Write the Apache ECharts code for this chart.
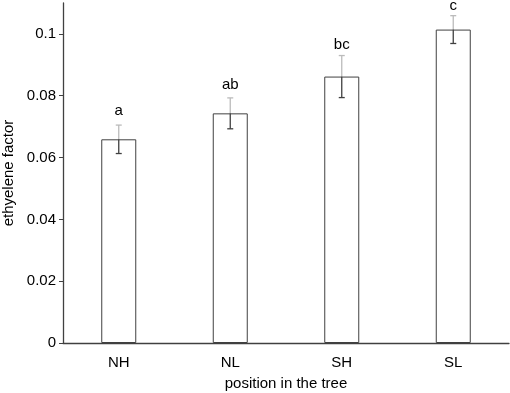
<!DOCTYPE html>
<html><head><meta charset="utf-8">
<script src="https://cdn.jsdelivr.net/npm/echarts@6/dist/echarts.min.js"></script>
<style>html,body{margin:0;padding:0;background:#fff}#c{width:510px;height:393px}</style>
</head><body><div id="c"></div>
<script>
const categories = ['NH', 'NL', 'SH', 'SL'];
const values = [0.0659, 0.0743, 0.0862, 0.1014];
const errors = [0.0046, 0.0050, 0.0068, 0.0045];
const letters = ['a', 'ab', 'bc', 'c'];
const letterPos = [0.0752, 0.0836, 0.0966, 0.1090];
const yTicks = [0, 0.02, 0.04, 0.06, 0.08, 0.1];

const chart = echarts.init(document.getElementById('c'));
const font = 'Liberation Sans, Arial, sans-serif';
chart.setOption({
  animation: false,
  grid: { left: 63, right: 1, top: 3, bottom: 50, outerBoundsMode: 'none', containLabel: false },
  xAxis: {
    type: 'category', data: categories,
    axisLine: { lineStyle: { color: '#404040', width: 1.3 } },
    axisTick: { show: false },
    axisLabel: { color: '#000', fontSize: 15, fontFamily: font, margin: 12 },
    name: 'position in the tree', nameLocation: 'middle', nameGap: 33,
    nameTextStyle: { color: '#000', fontSize: 15, fontFamily: font }
  },
  yAxis: {
    type: 'value', min: 0, max: 0.11,
    axisLine: { show: true, lineStyle: { color: '#404040', width: 1.3 } },
    axisTick: { show: true, inside: false, length: 4, customValues: yTicks, lineStyle: { color: '#404040' } },
    axisLabel: { color: '#000', fontSize: 15, fontFamily: font, margin: 7, customValues: yTicks,
      formatter: v => String(+v.toFixed(3)) },
    splitLine: { show: false },
    name: 'ethyelene factor', nameLocation: 'middle', nameGap: 45,
    nameTextStyle: { color: '#000', fontSize: 15, fontFamily: font }
  },
  series: [
    {
      type: 'bar', data: values, barWidth: 35,
      itemStyle: { color: '#fff', borderColor: '#404040', borderWidth: 1 }
    },
    {
      type: 'custom',
      data: values.map((v, i) => [i, v, errors[i]]),
      renderItem: function (params, api) {
        const x = api.coord([api.value(0), 0])[0];
        const yTop = api.coord([0, api.value(1)])[1];
        const yHi = api.coord([0, api.value(1) + api.value(2)])[1];
        const yLo = api.coord([0, api.value(1) - api.value(2)])[1];
        const cw = 3;
        return {
          type: 'group', children: [
            { type: 'line', shape: { x1: x, y1: yTop, x2: x, y2: yHi }, style: { stroke: '#bbbbbb', lineWidth: 1.3 } },
            { type: 'line', shape: { x1: x - cw, y1: yHi, x2: x + cw, y2: yHi }, style: { stroke: '#bbbbbb', lineWidth: 1.3 } },
            { type: 'line', shape: { x1: x, y1: yTop, x2: x, y2: yLo }, style: { stroke: '#404040', lineWidth: 1.3 } },
            { type: 'line', shape: { x1: x - cw, y1: yLo, x2: x + cw, y2: yLo }, style: { stroke: '#404040', lineWidth: 1.3 } }
          ]
        };
      },
      z: 5
    },
    {
      type: 'scatter', symbolSize: 0,
      itemStyle: { opacity: 1 },
      data: letterPos.map((v, i) => [i, v]),
      label: { show: true, position: 'inside', formatter: p => letters[p.dataIndex],
        color: '#000', opacity: 1, fontSize: 15, fontFamily: font }
    }
  ]
});
</script></body></html>
